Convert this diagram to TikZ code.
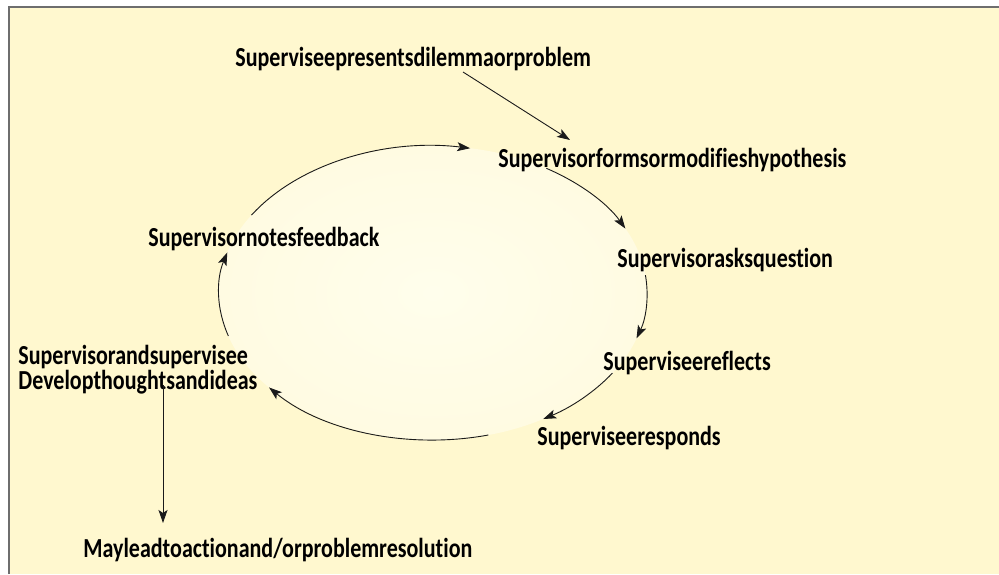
\documentclass[tikz,border=0pt]{standalone}
\usepackage{fontspec}
\setmainfont{Carlito}[FakeStretch=0.8, Ligatures=NoCommon]
\usetikzlibrary{arrows.meta,calc}
\definecolor{paper}{HTML}{FFF8CF}
\definecolor{cyclein}{HTML}{FFFEEC}
\definecolor{cycleout}{HTML}{FFFBE2}
\definecolor{frame}{HTML}{6E6E6E}
\definecolor{ink}{HTML}{1A1A1A}

\begin{document}
\begin{tikzpicture}[x=1pt, y=1pt, ->, >={Stealth[length=13pt,width=9pt,inset=3pt]}, line width=0.9pt, color=ink]
\tikzstyle{every node}=[inner sep=0pt, font=\fontsize{27.5}{25}\selectfont\bfseries, text=black]
\tikzstyle{loop arc}=[x radius=214, y radius=147]
\useasboundingbox (0,0) rectangle (999,574);
\fill[white] (0,0) rectangle (999,574);
\fill[paper] (9,0) rectangle (999,567);
\draw[-, frame, line width=1.5pt] (9,0) -- (9,567) -- (999,567);

% the cycle
\coordinate (O) at (433,281);
\shade[inner color=cyclein, outer color=cycleout] (O) ellipse [loop arc];

\node[anchor=base west] (present)  at (235,507) {Superviseepresentsdilemmaorproblem};
\node[anchor=base west] (forms)    at (498,406) {Supervisorformsormodifieshypothesis};
\node[anchor=base west] (asks)     at (617,306) {Supervisorasksquestion};
\node[anchor=base west] (reflects) at (603,204) {Superviseereflects};
\node[anchor=base west] (responds) at (537,129) {Superviseeresponds};
\node[anchor=base west] (feedback) at (148,327) {Supervisornotesfeedback};
\node[anchor=west, align=left] (develop) at (18,204) {Supervisorandsupervisee\\Developthoughtsandideas};
\node[anchor=base west] (lead)     at (83,17)  {Mayleadtoactionand/orproblemresolution};

\draw ($(O)+(148:214 and 147)$) arc[start angle=148, end angle=80, loop arc];
\draw ($(O)+(58:214 and 147)$)  arc[start angle=58, end angle=26, loop arc];
\draw ($(O)+(7:214 and 147)$)   arc[start angle=7, end angle=-18, loop arc];
\draw ($(O)+(-33:214 and 147)$) arc[start angle=-33, end angle=-59, loop arc];
\draw ($(O)+(-75:214 and 147)$) arc[start angle=-75, end angle=-140, loop arc];
\draw ($(O)+(197:214 and 147)$) arc[start angle=197, end angle=164, loop arc];

\draw ($(present.base west)+(228,-5)$) -- ($(forms.base west)+(72,28)$);
\draw ($(develop.west)+(145,-15)$) -- ($(lead.base west)+(80,34)$);
\end{tikzpicture}
\end{document}
